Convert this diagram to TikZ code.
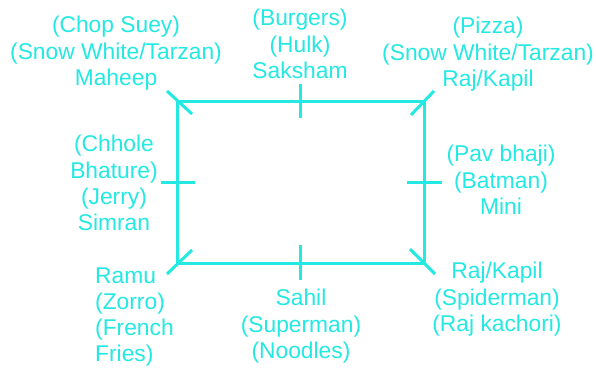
\documentclass[tikz,border=0pt]{standalone}
\usepackage{fontspec}
\setmainfont{Liberation Sans}
\usetikzlibrary{calc}
\definecolor{cy}{RGB}{36,232,226}
\begin{document}
\begin{tikzpicture}[x=1pt,y=-1pt,
  lbl/.style={text=cy, font=\fontsize{22.8}{26.4}\selectfont, inner sep=0pt, anchor=north, align=center},
  edge/.style={draw=cy, line width=3pt},
  tick/.style={draw=cy, line width=3pt}]
\useasboundingbox (0,0) rectangle (596,367);
% rectangle corners
\coordinate (tl) at (177,101);
\coordinate (tr) at (424,101);
\coordinate (bl) at (177,263);
\coordinate (br) at (424,263);
\draw[edge] (tl) -- (tr) -- (br) -- (bl) -- cycle;
% corner ticks
\draw[tick] ($(tl)+(-10,-10)$) -- ($(tl)+(15,13)$);
\draw[tick] ($(tr)+(10,-10)$) -- ($(tr)+(-13,14)$);
\draw[tick] ($(bl)+(-10,11)$) -- ($(bl)+(15,-13)$);
\draw[tick] ($(br)+(11,11)$) -- ($(br)+(-14,-14)$);
% mid ticks
\coordinate (tm) at (300.5,101);
\coordinate (bm) at (300.5,263);
\coordinate (lm) at (177,182);
\coordinate (rm) at (424,182);
\draw[tick] ($(tm)+(0,-17)$) -- ($(tm)+(0,17)$);
\draw[tick] ($(bm)+(0,-18)$) -- ($(bm)+(0,17)$);
\draw[tick] ($(lm)+(-16,0)$) -- ($(lm)+(18,0)$);
\draw[tick] ($(rm)+(-17,0)$) -- ($(rm)+(18,0)$);
% labels
\node[lbl] (ntl) at (116,16) {(Chop Suey)\\(Snow White/Tarzan)\\Maheep};
\node[lbl] (ntm) at (300,9) {(Burgers)\\(Hulk)\\Saksham};
\node[lbl] (ntr) at (488,17) {(Pizza)\\(Snow White/Tarzan)\\Raj/Kapil};
\node[lbl] (nlm) at (114,135) {(Chhole\\Bhature)\\(Jerry)\\Simran};
\node[lbl] (nrm) at (501,145) {(Pav bhaji)\\(Batman)\\Mini};
\node[lbl, anchor=north west, align=left, font=\fontsize{22.8}{25.8}\selectfont] (nbl) at (95,268) {Ramu\\(Zorro)\\(French\\Fries)};
\node[lbl] (nbm) at (301,289) {Sahil\\(Superman)\\(Noodles)};
\node[lbl] (nbr) at (497,262) {Raj/Kapil\\(Spiderman)\\(Raj kachori)};
\end{tikzpicture}
\end{document}
